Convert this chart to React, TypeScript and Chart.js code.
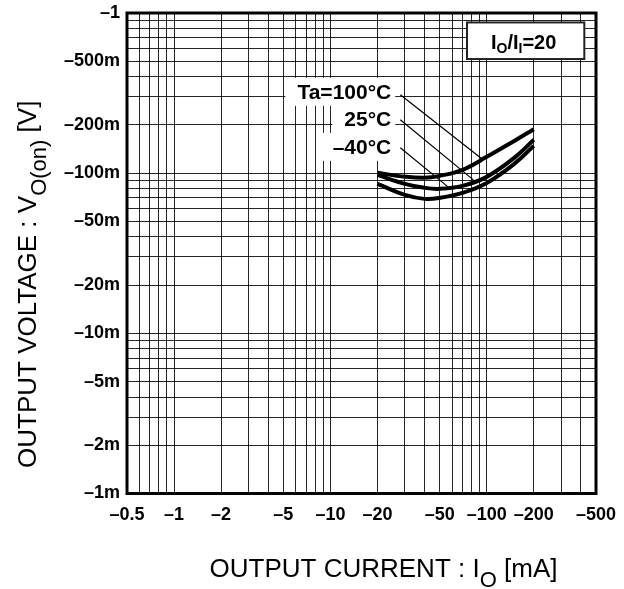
import React, { useEffect, useRef } from 'react';
import { Chart, registerables } from 'chart.js';

Chart.register(...registerables);

// ---- data (magnitudes; labels shown as negative values) ----
const currents = [20, 30, 40, 50, 70, 100, 150, 200]; // mA
const v100 = [0.1005, 0.095, 0.0935, 0.0962, 0.105, 0.1264, 0.159, 0.188]; // V
const v25 = [0.0975, 0.0858, 0.081, 0.0798, 0.0833, 0.0948, 0.1247, 0.1615];
const vm40 = [0.0858, 0.0732, 0.0691, 0.0701, 0.0753, 0.0869, 0.1143, 0.148];

const seriesLabels = ['Ta=100°C', '25°C', '–40°C'];

const xTickValues = [0.5, 1, 2, 5, 10, 20, 50, 100, 200, 500];
const xTickLabels = ['–0.5', '–1', '–2', '–5', '–10', '–20', '–50', '–100', '–200', '–500'];
const yTickValues = [0.001, 0.002, 0.005, 0.01, 0.02, 0.05, 0.1, 0.2, 0.5, 1];
const yTickLabels = ['–1m', '–2m', '–5m', '–10m', '–20m', '–50m', '–100m', '–200m', '–500m', '–1'];

// annotation anchors (data coordinates)
const labelRightX = 24.5;
const labelYs = [0.322, 0.218, 0.146];
const leaderStartX = 28;
const leaderStartYs = [0.3086, 0.2155, 0.144];
const leaderEndXs = [95.2, 82.1, 58.6];
const leaderEndYs = [0.121, 0.0908, 0.0798];
const ratioBoxX = [74.8, 421];
const ratioBoxY = [0.516, 0.873];

const FONT = '"Liberation Sans", Arial, Helvetica, sans-serif';

function logGrid(min: number, max: number): number[] {
  const out: number[] = [];
  for (let e = -4; e < 4; e++) {
    for (let m = 1; m < 10; m++) {
      const v = +(m * Math.pow(10, e)).toPrecision(3);
      if (v >= min * 0.999 && v <= max * 1.001) out.push(v);
    }
  }
  return out;
}

function findLabel(values: number[], labels: string[], v: number): string {
  const i = values.findIndex((t) => Math.abs(t - v) / t < 1e-6);
  return i >= 0 ? labels[i] : '';
}

type Part = { t: string; sub?: boolean };

function drawParts(ctx: CanvasRenderingContext2D, parts: Part[], x: number, y: number, size: number, subSize: number, subDy: number, weight: string) {
  const widths = parts.map((p) => {
    ctx.font = `${weight} ${p.sub ? subSize : size}px ${FONT}`;
    return ctx.measureText(p.t).width;
  });
  const total = widths.reduce((a, b) => a + b, 0);
  let cx = x - total / 2;
  ctx.textAlign = 'left';
  ctx.textBaseline = 'alphabetic';
  parts.forEach((p, i) => {
    ctx.font = `${weight} ${p.sub ? subSize : size}px ${FONT}`;
    ctx.fillText(p.t, cx, y + (p.sub ? subDy : 0));
    cx += widths[i];
  });
}

const overlay = {
  id: 'overlay',
  afterDraw(chart: any) {
    const { ctx, chartArea: ca, scales } = chart;
    const xs = scales.x;
    const ys = scales.y;
    ctx.save();

    // frame
    ctx.strokeStyle = '#000';
    ctx.lineWidth = 3;
    ctx.strokeRect(ca.left, ca.top, ca.right - ca.left, ca.bottom - ca.top);

    // temperature labels with white backgrounds
    ctx.font = `bold 21px ${FONT}`;
    const rx = xs.getPixelForValue(labelRightX);
    seriesLabels.forEach((t, i) => {
      const cy = ys.getPixelForValue(labelYs[i]);
      const w = ctx.measureText(t).width;
      ctx.fillStyle = '#fff';
      ctx.fillRect(rx - w - 12, cy - 14, w + 16, 28);
    });
    ctx.strokeStyle = '#000';
    ctx.lineWidth = 1.2;
    seriesLabels.forEach((_, i) => {
      ctx.beginPath();
      ctx.moveTo(xs.getPixelForValue(leaderStartX), ys.getPixelForValue(leaderStartYs[i]));
      ctx.lineTo(xs.getPixelForValue(leaderEndXs[i]), ys.getPixelForValue(leaderEndYs[i]));
      ctx.stroke();
    });
    ctx.fillStyle = '#000';
    ctx.textAlign = 'right';
    ctx.textBaseline = 'middle';
    seriesLabels.forEach((t, i) => {
      ctx.fillText(t, rx, ys.getPixelForValue(labelYs[i]) + 1);
    });

    // ratio box
    const bx0 = xs.getPixelForValue(ratioBoxX[0]);
    const bx1 = xs.getPixelForValue(ratioBoxX[1]);
    const by0 = ys.getPixelForValue(ratioBoxY[1]);
    const by1 = ys.getPixelForValue(ratioBoxY[0]);
    ctx.fillStyle = '#fff';
    ctx.fillRect(bx0, by0, bx1 - bx0, by1 - by0);
    ctx.strokeStyle = '#222';
    ctx.lineWidth = 2;
    ctx.strokeRect(bx0, by0, bx1 - bx0, by1 - by0);
    ctx.fillStyle = '#000';
    drawParts(
      ctx,
      [{ t: 'I' }, { t: 'O', sub: true }, { t: '/I' }, { t: 'I', sub: true }, { t: '=20' }],
      (bx0 + bx1) / 2 - 2,
      (by0 + by1) / 2 + 8,
      20,
      14,
      4,
      'bold'
    );

    // axis titles
    ctx.fillStyle = '#000';
    drawParts(
      ctx,
      [{ t: 'OUTPUT CURRENT : I' }, { t: 'O', sub: true }, { t: ' [mA]' }],
      (ca.left + ca.right) / 2 + 22,
      577,
      26,
      22,
      10,
      'normal'
    );
    ctx.save();
    ctx.translate(36, (ca.top + ca.bottom) / 2 + 31);
    ctx.rotate(-Math.PI / 2);
    drawParts(
      ctx,
      [{ t: 'OUTPUT VOLTAGE : V' }, { t: 'O(on)', sub: true }, { t: ' [V]' }],
      0,
      0,
      26,
      22,
      10,
      'normal'
    );
    ctx.restore();

    ctx.restore();
  },
};

const zeroPad = (s: any) => {
  s.paddingTop = 0;
  s.paddingBottom = 0;
  s.paddingLeft = 0;
  s.paddingRight = 0;
};

export default function App() {
  const ref = useRef<HTMLCanvasElement | null>(null);

  useEffect(() => {
    if (!ref.current) return;
    const mk = (label: string, data: number[]) => ({
      label,
      data: currents.map((c, i) => ({ x: c, y: data[i] })),
      borderColor: '#000',
      backgroundColor: '#000',
      borderWidth: 4,
      pointRadius: 0,
      tension: 0.4,
      fill: false,
    });
    const chart = new Chart(ref.current, {
      type: 'line',
      data: {
        datasets: [mk(seriesLabels[0], v100), mk(seriesLabels[1], v25), mk(seriesLabels[2], vm40)],
      },
      options: {
        animation: false,
        responsive: false,
        layout: { padding: { left: 0, right: 28, top: 13, bottom: 0 } },
        plugins: { legend: { display: false }, tooltip: { enabled: false } },
        scales: {
          x: {
            type: 'logarithmic',
            min: 0.5,
            max: 500,
            afterBuildTicks: (s: any) => {
              s.ticks = logGrid(0.5, 500).map((v) => ({ value: v }));
            },
            afterFit: (s: any) => {
              s.height = 95.5;
              zeroPad(s);
            },
            grid: { color: 'rgba(0,0,0,0.85)', lineWidth: 1, drawTicks: false },
            border: { display: false },
            ticks: {
              autoSkip: false,
              maxRotation: 0,
              padding: 11,
              color: '#000',
              font: { family: FONT, size: 18, weight: 'bold' },
              callback: (v: any) => findLabel(xTickValues, xTickLabels, Number(v)),
            },
          },
          y: {
            type: 'logarithmic',
            min: 0.001,
            max: 1,
            afterBuildTicks: (s: any) => {
              s.ticks = logGrid(0.001, 1).map((v) => ({ value: v }));
            },
            afterFit: (s: any) => {
              s.width = 127;
              zeroPad(s);
            },
            grid: { color: 'rgba(0,0,0,0.85)', lineWidth: 1, drawTicks: false },
            border: { display: false },
            ticks: {
              autoSkip: false,
              padding: 7,
              color: '#000',
              font: { family: FONT, size: 18, weight: 'bold' },
              callback: (v: any) => findLabel(yTickValues, yTickLabels, Number(v)),
            },
          },
        },
      },
      plugins: [overlay],
    } as any);
    return () => chart.destroy();
  }, []);

  return (
    <div style={{ position: 'absolute', left: 0, top: 0, width: 624, height: 589, background: '#fff' }}>
      <canvas ref={ref} width={624} height={589} style={{ width: 624, height: 589 }} />
    </div>
  );
}
